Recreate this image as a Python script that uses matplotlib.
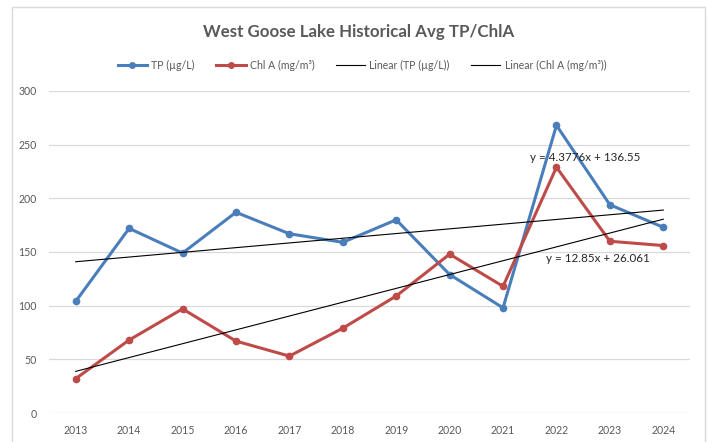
import matplotlib
matplotlib.use("Agg")
import matplotlib.pyplot as plt
import numpy as np
from matplotlib.patches import Rectangle
from matplotlib.lines import Line2D

years = ["2013", "2014", "2015", "2016", "2017", "2018", "2019", "2020", "2021", "2022", "2023", "2024"]
tp = [104, 172, 149, 187, 167, 159, 180, 129, 98, 268, 194, 173]
chla = [32, 68, 97, 67, 53, 79, 109, 148, 118, 229, 160, 156]
yticks = [0, 50, 100, 150, 200, 250, 300]
eq_tp = "y = 4.3776x + 136.55"
eq_chla = "y = 12.85x + 26.061"

plt.rcParams['font.family'] = ['Lato', 'DejaVu Sans']

W, H = 707, 442
fig = plt.figure(figsize=(W / 100, H / 100), dpi=100)

# chart border
fig.patches.append(Rectangle((12 / W, -0.05), (705 - 12) / W, (442 - 7) / H + 0.05,
                             transform=fig.transFigure, fill=False,
                             edgecolor='#d9d9d9', linewidth=1.0))

ax = fig.add_axes([49 / W, 29 / H, (690 - 49) / W, (413 - 91) / H])
x = np.arange(len(years))

blue = '#4a7ebb'
red = '#be4b48'
ax.plot(x, tp, color=blue, lw=2.2, marker='o', ms=4.5, solid_joinstyle='round', zorder=3)
ax.plot(x, chla, color=red, lw=2.2, marker='o', ms=4.5, solid_joinstyle='round', zorder=3)

# linear trendlines (x = 1..n as in Excel)
xn = x + 1
p1 = np.polyfit(xn, tp, 1)
p2 = np.polyfit(xn, chla, 1)
ax.plot(x, np.polyval(p1, xn), color='black', lw=0.8, zorder=4)
ax.plot(x, np.polyval(p2, xn), color='black', lw=0.8, zorder=4)

ax.text(9.53, 238, eq_tp, ha='center', va='center',
        fontsize=8.4, color='#262626', zorder=5)
ax.text(9.78, 144, eq_chla, ha='center', va='center',
        fontsize=8.4, color='#262626', zorder=5)

ax.set_xlim(-0.5, len(years) - 0.5)
ax.set_ylim(0, 300)
ax.set_yticks(yticks)
ax.set_xticks(x)
ax.set_xticklabels(years)
ax.grid(axis='y', color='#d9d9d9', lw=0.9)
ax.set_axisbelow(True)
for s in ax.spines.values():
    s.set_visible(False)
ax.tick_params(length=0, colors='#595959', labelsize=7.6)
ax.tick_params(axis='y', pad=9)
ax.tick_params(axis='x', pad=9)

fig.text(358.5 / W, 1 - 32 / H, "West Goose Lake Historical Avg TP/ChlA", ha='center', va='center',
         fontsize=12.2, fontweight='bold', color='#595959')

handles = [
    Line2D([], [], color=blue, lw=2.2, marker='o', ms=4),
    Line2D([], [], color=red, lw=2.2, marker='o', ms=4),
    Line2D([], [], color='black', lw=0.8),
    Line2D([], [], color='black', lw=0.8),
]
labels = ["TP (µg/L)", "Chl A (mg/m³)", "Linear (TP (µg/L))", "Linear (Chl A (mg/m³))"]
leg = fig.legend(handles, labels, loc='center', bbox_to_anchor=(362 / W, 1 - 65 / H), ncol=4,
                 frameon=False, fontsize=7.6, handlelength=2.8, columnspacing=2.0,
                 handletextpad=0.4)
for t in leg.get_texts():
    t.set_color('#595959')

fig.savefig("out.png", dpi=100)
